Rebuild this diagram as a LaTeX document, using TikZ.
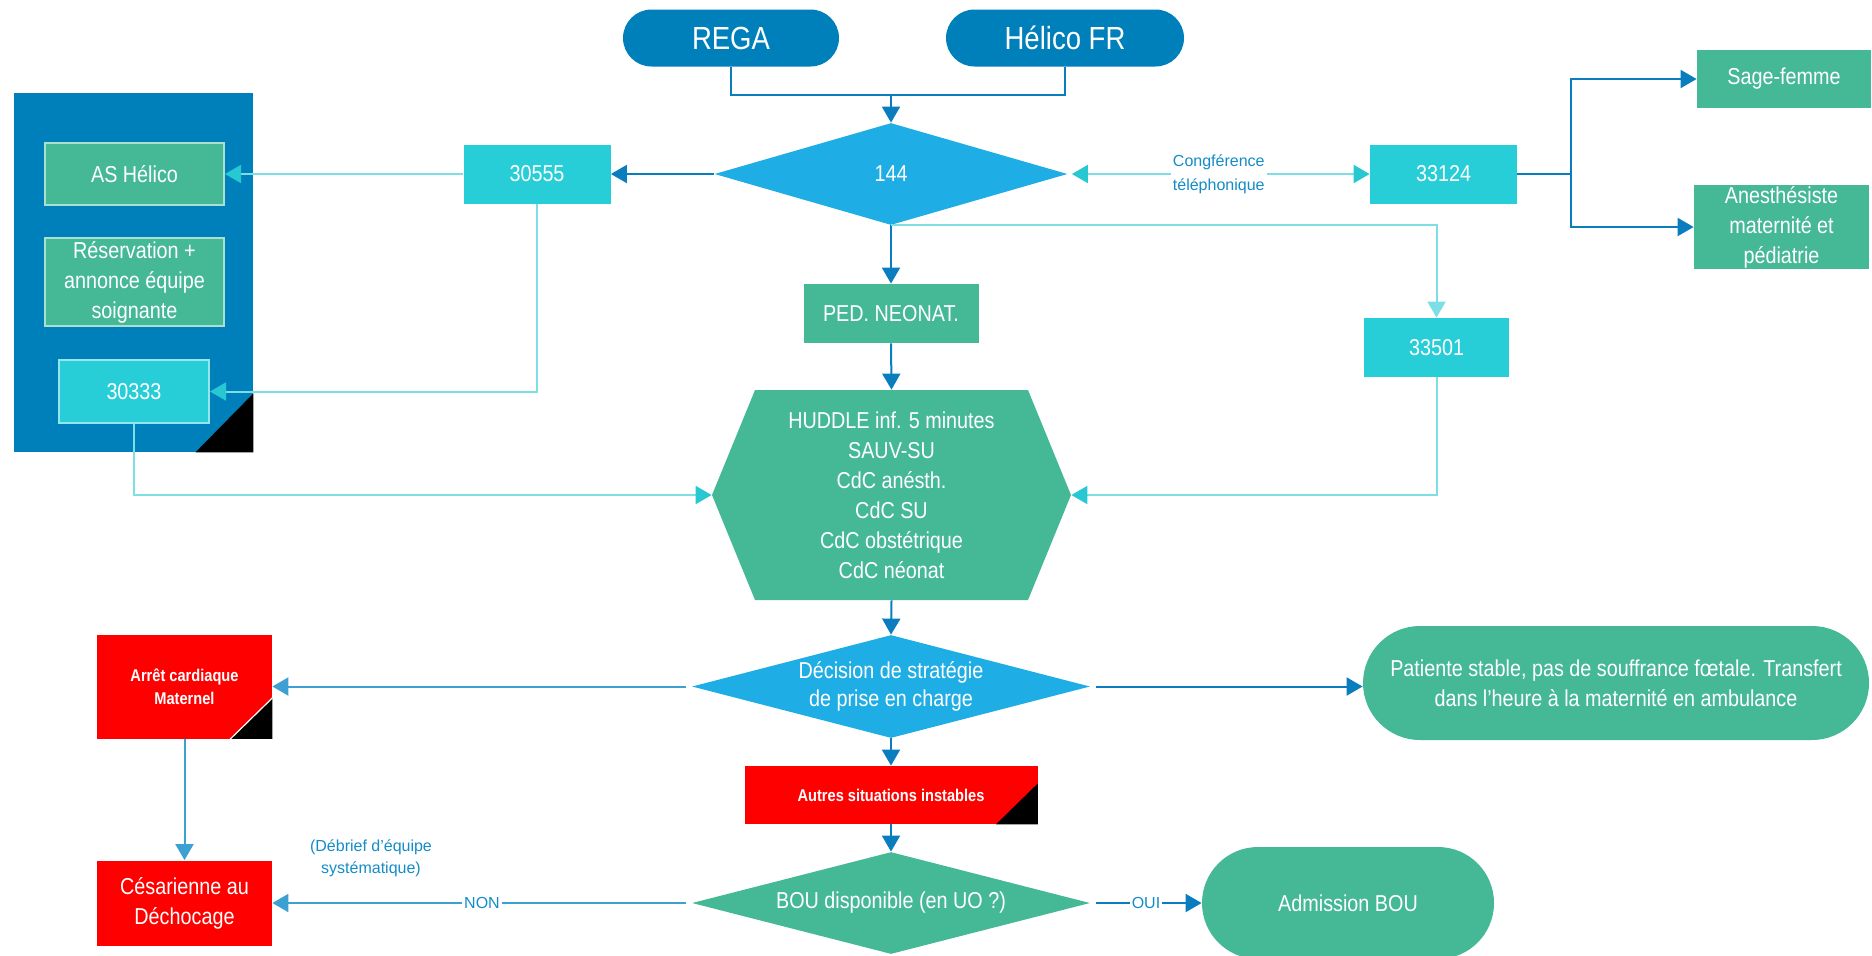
\documentclass[tikz,border=0pt]{standalone}
\usepackage{fontspec}
\setmainfont[FakeStretch=0.86]{Liberation Sans}
\newfontfamily\lblfont{Liberation Sans}
\usetikzlibrary{arrows.meta,shapes.geometric,calc}
\definecolor{cdark}{RGB}{0,128,186}
\definecolor{cdia}{RGB}{30,173,228}
\definecolor{ccyan}{RGB}{40,206,215}
\definecolor{cgreen}{RGB}{69,185,150}
\definecolor{cred}{RGB}{255,0,0}
\definecolor{cline}{RGB}{10,125,190}
\definecolor{clight}{RGB}{125,222,230}
\definecolor{ctipc}{RGB}{40,200,210}
\definecolor{cmidl}{RGB}{60,160,210}
\definecolor{clbl}{RGB}{20,140,200}
\begin{document}
\begin{tikzpicture}[x=0.5pt,y=-0.5pt,
  boxn/.style={rectangle, inner sep=0pt, text=white, align=center, font=\fontsize{11.5}{15}\selectfont},
  pillnode/.style={boxn},
  dianode/.style={diamond, inner sep=0pt},
  dtext/.style={inner sep=0pt, text=white, align=center, font=\fontsize{11.5}{14}\selectfont},
  redtext/.style={boxn, font=\bfseries\fontsize{8.5}{11.5}\selectfont},
  lbltext/.style={inner sep=1pt, text=clbl, align=center, font=\lblfont\fontsize{8}{12}\selectfont},
  dl/.style={draw=cline, line width=1pt},
  ll/.style={draw=clight, line width=1pt},
  ml/.style={draw=cmidl, line width=1pt},
  dtip/.style={-{Triangle[length=8pt,width=9pt]}},
  ctip/.style={-{Triangle[length=8pt,width=9pt,color=ctipc]}},
]
\useasboundingbox (0,0) rectangle (1872,955);

% container
\node[rectangle, inner sep=0pt, fill=cdark, minimum width=119.5pt, minimum height=179.5pt] (cont) at (133.5,272.5) {};
\fill[black] (cont.south east) -- ++(-58,0) -- ++(58,-59) -- cycle;

% top
\node[pillnode, fill=cdark, minimum width=108pt, minimum height=28.5pt, rounded corners=14.25pt, font=\fontsize{16}{18}\selectfont] (rega) at (731,38) {REGA};
\node[pillnode, fill=cdark, minimum width=119pt, minimum height=28.5pt, rounded corners=14.25pt, font=\fontsize{16}{18}\selectfont] (helico) at (1065,38) {Hélico FR};

\node[dianode, fill=cdia, minimum width=176.5pt, minimum height=51pt, label={[dtext]center:144}] (n144) at (891,174) {};

\node[boxn, fill=ccyan, minimum width=73.5pt, minimum height=29.5pt] (n30555) at (537,174) {30555};
\node[boxn, fill=cgreen, draw=white!55!cgreen, line width=1pt, minimum width=89.5pt, minimum height=31pt] (ashel) at (134.5,174) {AS Hélico};
\node[boxn, fill=cgreen, draw=white!55!cgreen, line width=1pt, minimum width=89.5pt, minimum height=44pt] (resa) at (134.5,282) {Réservation +\\annonce équipe\\soignante};
\node[boxn, fill=ccyan, draw=white!50!ccyan, line width=1pt, minimum width=75pt, minimum height=31.5pt] (n30333) at (134,391.5) {30333};

\node[boxn, fill=cgreen, minimum width=87.5pt, minimum height=29.5pt] (ped) at (891,313.5) {PED. NEONAT.};

\fill[cgreen] (755,390) -- (1028,390) -- (1071,495) -- (1028,600) -- (755,600) -- (712,495) -- cycle;
\node[boxn, minimum width=179.5pt, minimum height=105pt] (huddle) at (891.5,495) {HUDDLE inf. 5 minutes\\SAUV-SU\\CdC anésth.\\CdC SU\\CdC obstétrique\\CdC néonat};

\node[boxn, fill=ccyan, minimum width=73.5pt, minimum height=29.5pt] (n33124) at (1443.5,174) {33124};
\node[boxn, fill=cgreen, minimum width=87pt, minimum height=29pt] (sage) at (1784,79) {Sage-femme};
\node[boxn, fill=cgreen, minimum width=87.5pt, minimum height=42pt] (anest) at (1781.5,227) {Anesthésiste\\maternité et\\pédiatrie};
\node[boxn, fill=ccyan, minimum width=72.5pt, minimum height=29.5pt] (n33501) at (1436.5,347.5) {33501};

\node[dianode, fill=cdia, minimum width=199pt, minimum height=51.5pt, label={[dtext]center:{Décision de stratégie\\de prise en charge}}] (dec) at (891,686.5) {};

\node[redtext, fill=cred, minimum width=87.5pt, minimum height=52pt] (arret) at (184.5,686.5) {Arrêt cardiaque\\Maternel};
\fill[black] (arret.south east) -- ++(-42,0) -- ++(42,-41) -- cycle;
\draw[white, line width=0.6pt] ([xshift=-21pt]arret.south east) -- ([yshift=20.5pt]arret.south east);

\node[pillnode, fill=cgreen, minimum width=253pt, minimum height=57pt, rounded corners=28.5pt] (pat) at (1616,683) {Patiente stable, pas de souffrance fœtale. Transfert\\dans l’heure à la maternité en ambulance};

\node[redtext, fill=cred, minimum width=146.5pt, minimum height=29pt] (autres) at (891,795) {Autres situations instables};
\fill[black] (autres.south east) -- ++(-42,0) -- ++(42,-41) -- cycle;

\node[dianode, fill=cgreen, minimum width=199pt, minimum height=51pt, label={[dtext]center:BOU disponible (en UO ?)}] (bou) at (891,903) {};

\node[boxn, fill=cred, minimum width=87.5pt, minimum height=42.5pt] (ces) at (184.5,903) {Césarienne au\\Déchocage};

\node[pillnode, fill=cgreen, minimum width=146pt, minimum height=56pt, rounded corners=28pt] (adm) at (1348,903) {Admission BOU};

% connectors
\coordinate (join) at (891,95);
\draw[dl] (rega.south) |- (join) -| (helico.south);
\draw[dl, dtip] (join) -- (n144.north);
\draw[dl, dtip] (n144.west) -- (n30555.east);
\draw[ll, ctip] (n30555.west) -- (ashel.east);
\draw[ll, ctip] (n30555.south) |- (n30333.east);
\draw[ll, ctip] (n30333.south) |- (huddle.west);
\draw[dl, dtip] (n144.south) -- (ped.north);
\draw[dl, dtip] (ped.south) -- (huddle.north);
\draw[ll, {Triangle[length=8pt,width=9pt,color=ctipc]}-{Triangle[length=8pt,width=9pt,color=ctipc]}, shorten <=2pt] (n144.east) -- node[lbltext, fill=white, pos=0.5] {Congférence\\téléphonique} (n33124.west);
\coordinate (br) at ($(n33124.east)+(54,0)$);
\draw[dl] (n33124.east) -- (br);
\draw[dl, dtip] (br) |- (sage.west);
\draw[dl, dtip] (br) |- (anest.west);
\draw[ll, -{Triangle[length=8pt,width=9pt,color=clight]}] (n144.south) -| (n33501.north);
\draw[ll, ctip] (n33501.south) |- (huddle.east);
\draw[dl, dtip] (huddle.south) -- (dec.north);
\draw[ml, dtip, shorten <=3pt] (dec.west) -- (arret.east);
\draw[dl, dtip, shorten <=3pt] (dec.east) -- (dec.east -| pat.west);
\draw[dl, dtip] (dec.south) -- (autres.north);
\draw[dl, dtip] (autres.south) -- (bou.north);
\draw[ml, dtip] (arret.south) -- (ces.north);
\draw[ml, dtip, shorten <=3pt] (bou.west) -- node[lbltext, fill=white, pos=0.5] {NON} (ces.east);
\node[lbltext, font=\lblfont\fontsize{8}{11}\selectfont] (debrief) at (371,858) {(Débrief d’équipe\\systématique)};
\draw[dl, dtip, shorten <=3pt] (bou.east) -- node[lbltext, fill=white, pos=0.5] {OUI} (adm.west);
\end{tikzpicture}
\end{document}
